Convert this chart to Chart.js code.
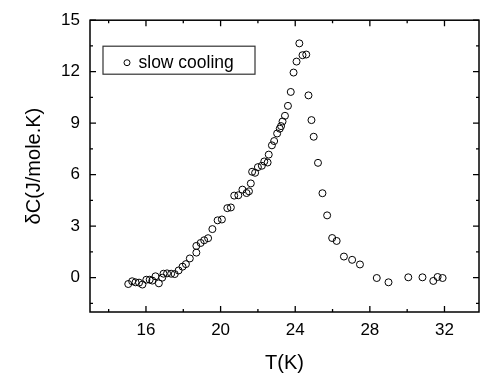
<!DOCTYPE html>
<html><head><meta charset="utf-8">
<script src="https://cdn.jsdelivr.net/npm/chart.js@4/dist/chart.umd.min.js"></script>
<style>html,body{margin:0;padding:0;background:#fff;}#wrap{width:484px;height:381px;}</style>
</head><body><div id="wrap"><canvas id="c" width="484" height="381"></canvas></div>
<script>
const temperatures = [15.05,15.26,15.44,15.63,15.81,16.02,16.20,16.34,16.51,16.69,16.87,16.94,17.13,17.35,17.54,17.75,17.96,18.14,18.35,18.70,18.70,18.93,19.12,19.33,19.56,19.84,20.07,20.36,20.55,20.73,20.95,21.17,21.39,21.52,21.62,21.69,21.85,22.00,22.21,22.34,22.52,22.58,22.75,22.87,23.03,23.17,23.24,23.32,23.45,23.61,23.76,23.91,24.07,24.22,24.39,24.59,24.71,24.87,24.99,25.22,25.46,25.71,25.98,26.22,26.61,27.05,27.47,28.37,29.00,30.06,30.82,31.40,31.63,31.90];
const deltaC = [-0.37,-0.21,-0.27,-0.29,-0.40,-0.12,-0.12,-0.17,0.08,-0.33,0.00,0.23,0.25,0.23,0.21,0.42,0.64,0.79,1.12,1.46,1.85,2.02,2.18,2.30,2.83,3.34,3.39,4.05,4.09,4.78,4.80,5.13,4.93,5.03,5.49,6.17,6.11,6.44,6.52,6.77,6.71,7.17,7.71,7.96,8.40,8.68,8.83,9.10,9.43,10.01,10.82,11.95,12.59,13.65,12.96,13.00,10.62,9.18,8.21,6.69,4.92,3.63,2.31,2.14,1.23,1.04,0.77,-0.02,-0.27,0.02,0.02,-0.19,0.04,-0.02];
const xMajorTicks = [16,20,24,28,32];
const xMinorTicks = [14,18,22,26,30];
const yMajorTicks = [0,3,6,9,12,15];
const yMinorTicks = [-1.5,1.5,4.5,7.5,10.5,13.5];
const seriesLabel = 'slow cooling';
const xTitle = 'T(K)';
const yTitle = 'δC(J/mole.K)';

const FONT = '"Liberation Sans", Arial, Helvetica, sans-serif';

const points = temperatures.map((t,i)=>({x:t,y:deltaC[i]}));

const framePlugin = {
  id:'frame',
  afterDraw(chart){
    const {ctx, chartArea:a, scales:{x,y}} = chart;
    ctx.save();
    ctx.strokeStyle='#000';
    ctx.lineWidth=1.5;
    ctx.strokeRect(a.left,a.top,a.right-a.left,a.bottom-a.top);
    ctx.lineWidth=1.3;
    ctx.beginPath();
    const xt=(v,len)=>{const p=x.getPixelForValue(v);
      ctx.moveTo(p,a.bottom);ctx.lineTo(p,a.bottom-len);
      ctx.moveTo(p,a.top);ctx.lineTo(p,a.top+len);};
    const yt=(v,len)=>{const p=y.getPixelForValue(v);
      ctx.moveTo(a.left,p);ctx.lineTo(a.left+len,p);
      ctx.moveTo(a.right,p);ctx.lineTo(a.right-len,p);};
    xMajorTicks.forEach(v=>xt(v,6));
    xMinorTicks.forEach(v=>xt(v,3));
    yMajorTicks.forEach(v=>yt(v,6));
    yMinorTicks.forEach(v=>yt(v,3));
    ctx.stroke();
    // legend
    const lx=a.left+13, ly=a.top+26, lw=152, lh=28;
    ctx.lineWidth=1.2;
    ctx.strokeStyle='#333';
    ctx.strokeRect(lx,ly,lw,lh);
    ctx.strokeStyle='#000';
    ctx.lineWidth=1;
    ctx.beginPath();
    ctx.arc(lx+24,ly+16.5,3,0,Math.PI*2);
    ctx.stroke();
    ctx.fillStyle='#000';
    ctx.font='17.5px '+FONT;
    ctx.textBaseline='alphabetic';
    ctx.textAlign='left';
    ctx.fillText(chart.data.datasets[0].label,lx+35.5,ly+21.5);
    ctx.restore();
  }
};

new Chart(document.getElementById('c'),{
  type:'scatter',
  data:{datasets:[{
    label:seriesLabel,
    data:points,
    pointStyle:'circle',
    pointRadius:3.5,
    pointBorderWidth:1,
    borderColor:'#000',
    backgroundColor:'rgba(0,0,0,0)',
    pointBackgroundColor:'rgba(0,0,0,0)',
    pointBorderColor:'#000'
  }]},
  options:{
    responsive:false,
    animation:false,
    devicePixelRatio:1,
    layout:{padding:{top:17,right:0,left:0,bottom:0}},
    plugins:{legend:{display:false},tooltip:{enabled:false}},
    scales:{
      x:{
        type:'linear',min:13,max:33.85,
        grid:{display:false,drawTicks:false},
        border:{display:false},
        afterBuildTicks:s=>{s.ticks=xMajorTicks.map(v=>({value:v}));},
        afterFit:s=>{s.height=69;},
        ticks:{color:'#000',font:{family:FONT,size:17},padding:8,maxRotation:0,autoSkip:false,callback:v=>String(v)},
        title:{display:true,text:xTitle,color:'#000',font:{family:FONT,size:20},padding:{top:0,bottom:6}}
      },
      y:{
        type:'linear',min:-2,max:15,
        grid:{display:false,drawTicks:false},
        border:{display:false},
        afterBuildTicks:s=>{s.ticks=yMajorTicks.map(v=>({value:v}));},
        afterFit:s=>{s.width=90;},
        ticks:{color:'#000',font:{family:FONT,size:17},padding:10,autoSkip:false,callback:v=>String(v)},
        title:{display:true,text:yTitle,color:'#000',font:{family:FONT,size:20},padding:{top:22,bottom:0}}
      }
    }
  },
  plugins:[framePlugin]
});
</script></body></html>
